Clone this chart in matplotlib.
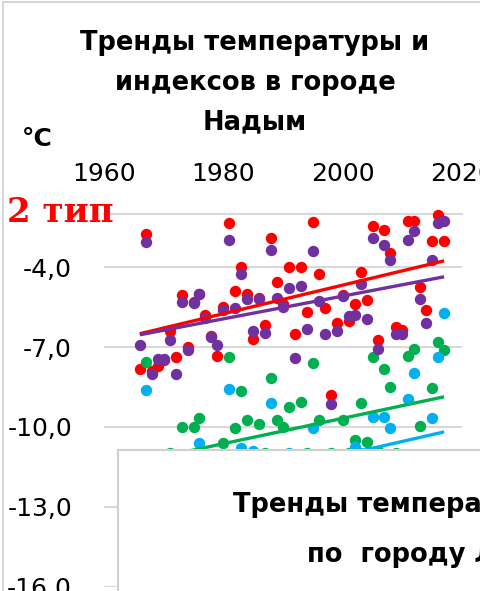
import numpy as np
import matplotlib
matplotlib.use("Agg")
import matplotlib.pyplot as plt
from matplotlib.patches import Rectangle

plt.rcParams['font.family'] = ['DejaVu Sans']

# ---------------- data ----------------
years = list(range(1966, 2018))

red_vals = [-7.83, -2.77, -7.9, -7.7, -7.5, -6.4, -7.37, -5.04, -7.0, -5.3,
            -5.0, -5.8, -6.6, -7.33, -5.48, -2.34, -4.89, -4.0, -5.0, -6.7,
            -5.15, -6.17, -2.9, -4.56, -5.4, -4.0, -6.5, -4.0, -5.67, -2.31,
            -4.26, -5.52, -8.8, -6.08, -5.05, -6.04, -5.39, -4.17, -5.25, -2.45,
            -6.73, -2.6, -3.45, -6.23, -6.35, -2.25, -2.25, -4.76, -5.6, -3.0,
            -2.05, -3.0]

purple_vals = [-6.94, -3.05, -8.0, -7.45, -7.45, -6.73, -8.0, -5.29, -7.13, -5.35,
               -5.02, -5.9, -6.61, -6.92, -5.61, -2.96, -5.54, -4.26, -5.19, -6.39,
               -5.2, -6.48, -3.34, -5.14, -5.5, -4.79, -7.42, -4.72, -6.33, -3.38,
               -5.26, -6.51, -9.13, -6.39, -5.1, -5.85, -5.79, -4.64, -5.95, -2.9,
               -7.07, -3.15, -3.73, -6.51, -6.51, -2.97, -2.63, -5.2, -6.1, -3.73,
               -2.33, -2.25]

green_vals = [-11.5, -7.55, -11.3, -11.9, -12.2, -11.0, -11.6, -10.02, -11.4, -10.02,
              -9.65, -11.3, -12.0, -11.1, -10.6, -7.36, -10.05, -8.65, -9.74, -11.2,
              -9.9, -11.0, -8.17, -9.74, -10.0, -9.26, -11.5, -9.05, -11.0, -7.6,
              -9.74, -11.5, -11.0, -11.2, -9.74, -11.0, -10.5, -9.1, -10.56, -7.36,
              -10.9, -7.83, -8.49, -11.0, -11.3, -7.33, -7.08, -9.95, -11.2, -8.55,
              -6.8, -7.1]

blue_vals = [-12.9, -8.61, -12.6, -13.2, -13.6, -12.2, -12.9, -11.8, -12.7, -11.9,
             -10.6, -12.5, -13.0, -11.6, -12.3, -8.59, -11.5, -10.8, -11.9, -10.9,
             -11.7, -12.4, -9.1, -11.2, -11.8, -11.0, -12.6, -11.1, -12.0, -10.03,
             -11.4, -12.3, -12.0, -12.5, -11.1, -11.8, -10.75, -11.0, -11.5, -9.62,
             -11.9, -9.62, -10.03, -11.6, -11.9, -8.96, -7.96, -11.2, -12.0, -9.67,
             -7.37, -5.72]

# linear trend lines (values at first and last year)
trend_years = [1966, 2017]
red_trend = [-6.50, -3.76]
purple_trend = [-6.54, -4.36]
green_trend = [-11.30, -8.87]
blue_trend = [-12.80, -10.19]

x_ticks = [1960, 1980, 2000, 2020]
y_ticks = [-16, -13, -10, -7, -4]
y_tick_labels = ["-16,0", "-13,0", "-10,0", "-7,0", "-4,0"]

title_lines = ["Тренды температуры и", "индексов в городе", "Надым"]
unit_label = "°C"
type_label = "2 тип"
overlay_lines = ["Тренды температуры", "по  городу Лабытнанги"]

RED, PURPLE, GREEN, BLUE = "#FF0000", "#7030A0", "#00B050", "#00B0F0"

# ---------------- figure ----------------
W, H = 481, 591
fig = plt.figure(figsize=(W / 100, H / 100), dpi=100)
fig.patch.set_facecolor("white")

def fx(px):
    return px / W

def fy(py):
    return 1 - py / H

ax = fig.add_axes([fx(104), fy(586.5), (462 - 104) / W, (586.5 - 214) / H])
ax.set_xlim(1960, 2020)
ax.set_ylim(-16, -2)

ms = 8.2
for vals, col, z in [(red_vals, RED, 3), (green_vals, GREEN, 4),
                     (blue_vals, BLUE, 5), (purple_vals, PURPLE, 6)]:
    ax.plot(years, vals, 'o', color=col, ms=ms, mec='none', zorder=z, clip_on=False)

for tv, col in [(red_trend, RED), (purple_trend, PURPLE),
                (green_trend, GREEN), (blue_trend, BLUE)]:
    ax.plot(trend_years, tv, '-', color=col, lw=2.4, zorder=8, solid_capstyle='butt')

ax.set_xticks(x_ticks)
ax.set_xticklabels([str(v) for v in x_ticks])
ax.set_yticks(y_ticks)
ax.set_yticklabels(y_tick_labels)
ax.xaxis.tick_top()
ax.tick_params(axis='x', length=0, labelsize=18, pad=20, colors='black')
ax.tick_params(axis='y', length=0, labelsize=18, pad=23, colors='black')
ax.grid(axis='y', color='#d9d9d9', lw=1.5, zorder=0)
ax.set_axisbelow(True)
for s in ['left', 'right', 'bottom']:
    ax.spines[s].set_visible(False)
ax.spines['top'].set_color('#d9d9d9')
ax.spines['top'].set_linewidth(1.5)

# chart area border (left/top edges of the screenshot)
fig.add_artist(Rectangle((fx(2.5), fy(H + 20)), 1.2, (H + 20 - 1.5) / H,
                         transform=fig.transFigure, fill=False,
                         edgecolor='#d0d0d0', lw=1.2, zorder=1))

# title
for line, base in zip(title_lines, [50, 90.5, 129.5]):
    fig.text(fx(255), fy(base), line, ha='center', va='baseline',
             fontsize=18.5, fontweight='bold', color='black')

fig.text(fx(22), fy(146.5), unit_label, ha='left', va='baseline',
         fontsize=18, fontweight='bold', color='black')

fig.text(fx(7), fy(222), type_label, ha='left', va='baseline',
         fontsize=24.5, fontweight='bold', color=RED, family='DejaVu Serif')

# overlaid second chart (white box)
fig.add_artist(Rectangle((fx(118), fy(H + 30)), (W + 30 - 118) / W, (H + 30 - 450) / H,
                         transform=fig.transFigure, facecolor='white',
                         edgecolor='#d0d0d0', lw=1.5, zorder=20))
fig.text(fx(233), fy(512.5), overlay_lines[0], ha='left', va='baseline',
         fontsize=18.5, fontweight='bold', color='black', zorder=21)
fig.text(fx(307), fy(562), overlay_lines[1], ha='left', va='baseline',
         fontsize=18.5, fontweight='bold', color='black', zorder=21)

fig.savefig("out.png", dpi=100, facecolor='white')
